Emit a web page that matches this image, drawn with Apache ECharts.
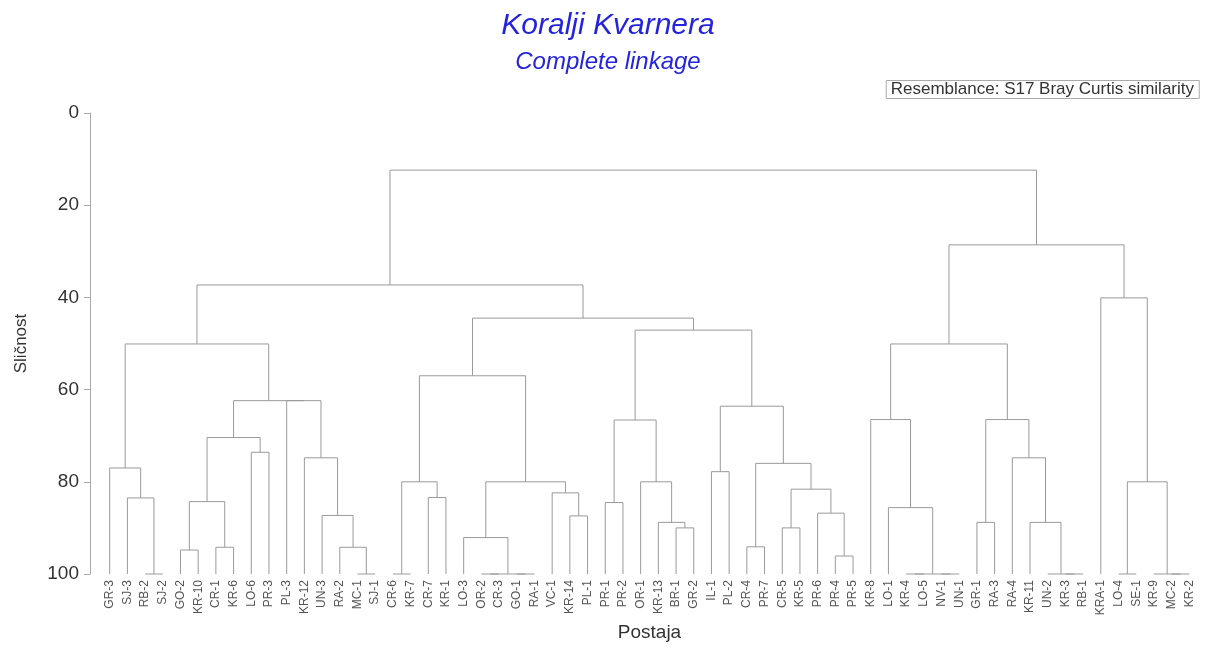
<!DOCTYPE html>
<html>
<head>
<meta charset="utf-8">
<title>Koralji Kvarnera</title>
<script src="https://cdn.jsdelivr.net/npm/echarts@6/dist/echarts.min.js"></script>
<style>
  html, body { margin: 0; padding: 0; background: #fff; }
  #main { width: 1216px; height: 648px; }
</style>
</head>
<body>
<div id="main"></div>
<script>
// postaje (listovi dendrograma), s lijeva na desno
var leafLabels = [
  'GR-3','SJ-3','RB-2','SJ-2','GO-2','KR-10','CR-1','KR-6','LO-6','PR-3',
  'PL-3','KR-12','UN-3','RA-2','MC-1','SJ-1','CR-6','KR-7','CR-7','KR-1',
  'LO-3','OR-2','CR-3','GO-1','RA-1','VC-1','KR-14','PL-1','PR-1','PR-2',
  'OR-1','KR-13','BR-1','GR-2','IL-1','PL-2','CR-4','PR-7','CR-5','KR-5',
  'PR-6','PR-4','PR-5','KR-8','LO-1','KR-4','LO-5','NV-1','UN-1','GR-1',
  'RA-3','RA-4','KR-11','UN-2','KR-3','RB-1','KRA-1','LO-4','SE-1','KR-9',
  'MC-2','KR-2'
];

// spajanja: [ime, lijevo, desno, slicnost %]
var linkage = [
  ['n1', 'RB-2', 'SJ-2', 100],
  ['n2', 'SJ-3', 'n1', 83.5],
  ['n3', 'GR-3', 'n2', 77],
  ['n4', 'GO-2', 'KR-10', 94.8],
  ['n5', 'CR-1', 'KR-6', 94.2],
  ['n6', 'n4', 'n5', 84.3],
  ['n7', 'LO-6', 'PR-3', 73.6],
  ['n8', 'n6', 'n7', 70.4],
  ['n9', 'MC-1', 'SJ-1', 100],
  ['n10', 'RA-2', 'n9', 94.2],
  ['n11', 'UN-3', 'n10', 87.3],
  ['n12', 'KR-12', 'n11', 74.8],
  ['n13', 'PL-3', 'n12', 62.4],
  ['n14', 'n8', 'n13', 62.4],
  ['n15', 'n3', 'n14', 50.1],
  ['n16', 'CR-6', 'KR-7', 100],
  ['n17', 'CR-7', 'KR-1', 83.4],
  ['n18', 'n16', 'n17', 80],
  ['n19', 'OR-2', 'CR-3', 100],
  ['n20', 'GO-1', 'RA-1', 100],
  ['n21', 'n19', 'n20', 100],
  ['n22', 'LO-3', 'n21', 92.1],
  ['n23', 'KR-14', 'PL-1', 87.4],
  ['n24', 'VC-1', 'n23', 82.4],
  ['n25', 'n22', 'n24', 80],
  ['n26', 'n18', 'n25', 57],
  ['n27', 'PR-1', 'PR-2', 84.5],
  ['n28', 'BR-1', 'GR-2', 90],
  ['n29', 'KR-13', 'n28', 88.8],
  ['n30', 'OR-1', 'n29', 80],
  ['n31', 'n27', 'n30', 66.6],
  ['n32', 'IL-1', 'PL-2', 77.8],
  ['n33', 'CR-4', 'PR-7', 94.1],
  ['n34', 'CR-5', 'KR-5', 90],
  ['n35', 'PR-4', 'PR-5', 96.1],
  ['n36', 'PR-6', 'n35', 86.8],
  ['n37', 'n34', 'n36', 81.6],
  ['n38', 'n33', 'n37', 76],
  ['n39', 'n32', 'n38', 63.6],
  ['n40', 'n31', 'n39', 47.1],
  ['n41', 'n26', 'n40', 44.5],
  ['n42', 'n15', 'n41', 37.3],
  ['n43', 'KR-4', 'LO-5', 100],
  ['n44', 'NV-1', 'UN-1', 100],
  ['n45', 'n43', 'n44', 100],
  ['n46', 'LO-1', 'n45', 85.6],
  ['n47', 'KR-8', 'n46', 66.5],
  ['n48', 'GR-1', 'RA-3', 88.8],
  ['n49', 'KR-3', 'RB-1', 100],
  ['n50', 'UN-2', 'n49', 100],
  ['n51', 'KR-11', 'n50', 88.8],
  ['n52', 'RA-4', 'n51', 74.8],
  ['n53', 'n48', 'n52', 66.5],
  ['n54', 'n47', 'n53', 50.1],
  ['n55', 'LO-4', 'SE-1', 100],
  ['n56', 'MC-2', 'KR-2', 100],
  ['n57', 'KR-9', 'n56', 100],
  ['n58', 'n55', 'n57', 80],
  ['n59', 'KRA-1', 'n58', 40.1],
  ['n60', 'n54', 'n59', 28.6],
  ['n61', 'n42', 'n60', 12.4]
];

var yTicks = [0, 20, 40, 60, 80, 100];

// polozaj cvora: x = indeks lista / sredina djece, y = slicnost
var pos = {};
leafLabels.forEach(function (name, i) { pos[name] = { x: i, h: 100 }; });
var segs = linkage.map(function (row) {
  var a = pos[row[1]], b = pos[row[2]];
  pos[row[0]] = { x: (a.x + b.x) / 2, h: row[3] };
  return [a.x, a.h, b.x, b.h, row[3]];
});

var font = 'Liberation Sans, Arial, sans-serif';
var myChart = echarts.init(document.getElementById('main'));

var option = {
  animation: false,
  backgroundColor: '#fff',
  title: [{
    text: 'Koralji Kvarnera',
    left: 'center',
    top: 6,
    textStyle: { fontFamily: font, fontSize: 30, fontStyle: 'italic', fontWeight: 'normal', color: '#2424dc' }
  }, {
    text: 'Complete linkage',
    left: 'center',
    top: 45,
    textStyle: { fontFamily: font, fontSize: 24, fontStyle: 'italic', fontWeight: 'normal', color: '#2424dc' }
  }, {
    text: 'Resemblance: S17 Bray Curtis similarity',
    right: 17,
    top: 80,
    padding: [1, 5],
    borderWidth: 1,
    borderColor: '#aaa',
    textStyle: { fontFamily: font, fontSize: 17, fontWeight: 'normal', color: '#333' }
  }],
  grid: {
    left: 92,
    right: 9,
    top: 113,
    bottom: 74
  },
  xAxis: {
    type: 'value',
    min: -1,
    max: 62,
    interval: 1,
    name: 'Postaja',
    nameLocation: 'middle',
    nameGap: 47,
    nameTextStyle: { fontFamily: font, fontSize: 19, color: '#333' },
    axisLine: { show: false },
    axisTick: { show: false },
    splitLine: { show: false },
    axisLabel: {
      rotate: 90,
      margin: 6,
      fontFamily: font,
      fontSize: 12,
      color: '#555',
      formatter: function (v) { return leafLabels[v] || ''; }
    }
  },
  yAxis: {
    type: 'value',
    inverse: true,
    min: yTicks[0],
    max: yTicks[yTicks.length - 1],
    interval: 20,
    offset: 2,
    name: 'Sličnost',
    nameLocation: 'middle',
    nameRotate: 90,
    nameGap: 60,
    nameTextStyle: { fontFamily: font, fontSize: 17, color: '#333' },
    axisLine: { show: true, onZero: false, lineStyle: { color: '#aaa' } },
    axisTick: { show: true, length: 6, lineStyle: { color: '#aaa' } },
    splitLine: { show: false },
    axisLabel: { margin: 11, fontFamily: font, fontSize: 19, color: '#333' }
  },
  series: [{
    type: 'custom',
    coordinateSystem: 'cartesian2d',
    data: segs.map(function (s) { return [(s[0] + s[2]) / 2, s[4]]; }),
    encode: { x: 0, y: 1 },
    silent: true,
    renderItem: function (params, api) {
      var s = segs[params.dataIndex];
      var pts = [
        api.coord([s[0], s[1]]),
        api.coord([s[0], s[4]]),
        api.coord([s[2], s[4]]),
        api.coord([s[2], s[3]])
      ];
      return {
        type: 'polyline',
        shape: { points: pts },
        style: { stroke: '#9a9a9a', lineWidth: 1, fill: null }
      };
    }
  }]
};

myChart.setOption(option);
window.onresize = myChart.resize;
</script>
</body>
</html>
